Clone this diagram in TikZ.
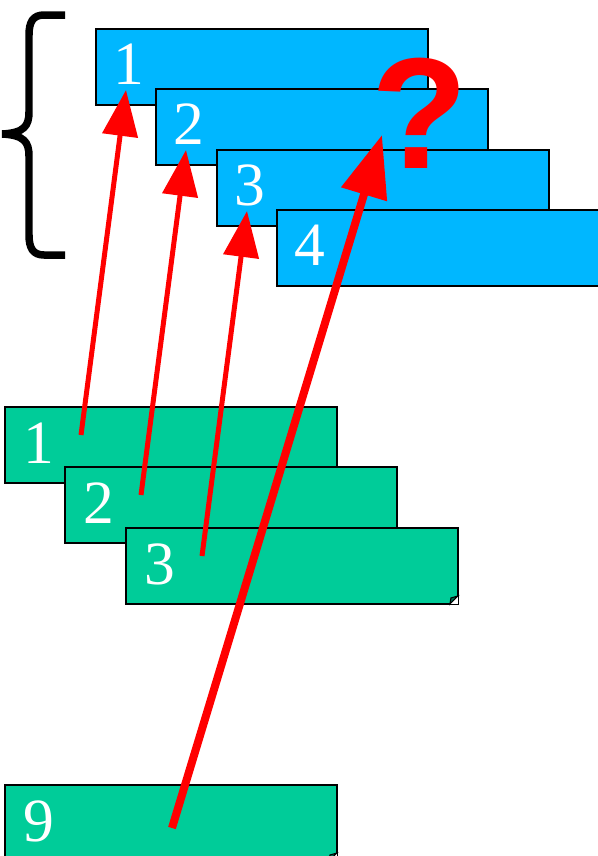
\documentclass[tikz,border=0pt]{standalone}
\usepackage{fontspec}
\setmainfont{Liberation Serif}
\newfontfamily\qfont{Liberation Sans}
\usetikzlibrary{calc, arrows.meta}
\definecolor{tabblue}{RGB}{0,183,255}
\definecolor{tabgreen}{RGB}{0,204,153}
\definecolor{ptrred}{RGB}{255,0,0}

\begin{document}
\begin{tikzpicture}[x=0.02cm, y=-0.02cm,
    tab/.style={draw=black, line width=1.1pt, minimum width=6.64cm, minimum height=1.52cm,
        anchor=north west, inner sep=0pt, outer sep=0pt},
    bluetab/.style={tab, fill=tabblue},
    greentab/.style={tab, fill=tabgreen},
    num/.style={text=white, font=\fontsize{35}{35}\selectfont, anchor=base, inner sep=0pt},
    ptr/.style={draw=ptrred, line width=0.1cm, -{Triangle[length=0.92cm, width=0.7cm]}},
    bigptr/.style={draw=ptrred, line width=0.16cm, -{Triangle[length=1.24cm, width=0.92cm]}}]
\useasboundingbox (0,0) rectangle (598,856);
\clip (0,0) rectangle (598,856);
% brace
\draw[line width=0.15cm] (65,15) -- (44,15) .. controls (33,15) and (29,22) .. (29,35) -- (29,112)
    .. controls (29,126) and (24,133) .. (2,134) .. controls (24,135) and (29,142) .. (29,156)
    -- (29,235) .. controls (29,248) and (33,255) .. (44,255) -- (65,255);
% blue tabs
\foreach \i/\x/\y in {1/96/29, 2/156/89, 3/217/150, 4/277/210}{
    \node[bluetab] (b\i) at (\x,\y) {};
    \node[num] (nb\i) at ($(b\i.north west)+(33,55)$) {\i};
}
% green tabs
\foreach \i/\x/\y in {1/5/407, 2/65/467, 3/126/528, 9/5/785}{
    \node[greentab] (g\i) at (\x,\y) {};
    \node[num] (ng\i) at ($(g\i.north west)+(34,56)$) {\i};
    \fill[white] (g\i.south east) -- ++(-8,0) -- ++(8,-8) -- cycle;
    \filldraw[fill=tabgreen!55!black, draw=black, line width=0.6pt]
        ($(g\i.south east)+(-8,0)$) -- ++(8,-8) -- ++(-7,2) -- cycle;
}
% question mark
\node[text=ptrred, font=\qfont\bfseries\fontsize{90}{90}\selectfont, anchor=base, inner sep=0pt]
    (qm) at (420,168) {?};
% pointers
\foreach \i in {1,2,3}
    \draw[ptr] ($(g\i.north west)+(76,28)$) -- ($(b\i.north west)+(30,61)$);
\draw[bigptr] ($(g9.north west)+(167,43)$) -- ($(b2.north west)+(226,46)$);
\end{tikzpicture}
\end{document}
